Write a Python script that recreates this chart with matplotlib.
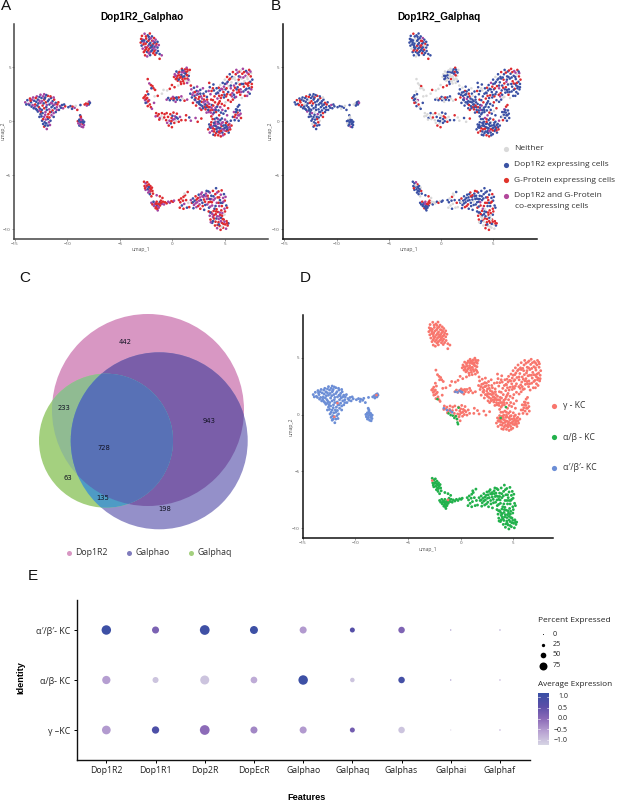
import matplotlib
matplotlib.use("Agg")
import matplotlib.pyplot as plt
from matplotlib.patches import Circle
from matplotlib.colors import LinearSegmentedColormap
import numpy as np

W, H = 617, 802
SANS = ["Open Sans", "DejaVu Sans"]
BOLD = ["Liberation Sans", "DejaVu Sans"]

# ---------- UMAP cells, by cluster ----------
top = [(-2.9,7.9),(-2.65,8.1),(-2.35,7.95),(-2.15,8.12),(-1.95,7.85),(-1.75,7.7),(-2.82,7.55),(-2.5,7.65),(-2.2,7.58),(-1.92,7.45),(-1.6,7.55),(-1.42,7.35),(-3.02,7.28),(-2.72,7.3),(-2.42,7.35),(-2.1,7.25),(-1.8,7.18),(-1.52,7.15),(-1.3,7.05),(-2.93,7.0),(-2.6,7.02),(-2.3,6.98),(-2.02,7.0),(-1.7,6.88),(-1.42,6.82),(-2.83,6.72),(-2.52,6.68),(-2.2,6.72),(-1.9,6.6),(-1.62,6.62),(-1.38,6.5),(-2.72,6.4),(-2.42,6.42),(-2.12,6.38),(-1.82,6.3),(-1.52,6.32),(-2.6,6.1),(-2.4,6.0),(-2.12,6.12),(-1.22,6.22),(-1.02,6.1),(-1.22,5.78),(-2.98,7.62),(-2.25,7.82),(-1.68,7.3),(-2.58,6.85),(-1.95,6.85),(-2.3,6.55),(-1.72,6.48),(-2.75,7.12),
 (-2.52,7.85),(-2.05,7.68),(-2.68,7.48),(-2.28,7.45),(-1.82,7.42),(-2.88,7.42),(-2.55,7.18),(-2.2,7.12),(-1.9,7.02),(-1.58,6.98),(-2.45,6.82),(-2.08,6.82),(-1.8,6.75),(-2.62,6.55),(-2.0,6.5),(-2.25,6.28),(-1.65,6.15)]
left = [(-14.0,1.75),(-13.8,1.95),(-13.7,1.6),(-13.55,2.1),(-13.45,1.75),(-13.4,1.35),(-13.25,2.2),(-13.15,1.9),(-13.05,1.55),(-13.0,1.15),(-12.9,2.3),(-12.8,2.0),(-12.75,1.65),(-12.7,1.3),(-12.8,0.9),(-12.55,2.45),(-12.45,2.15),(-12.4,1.85),(-12.35,1.45),(-12.42,1.05),(-12.55,0.65),(-12.2,2.5),(-12.1,2.2),(-12.05,1.75),(-12.0,1.3),(-12.08,0.85),(-12.2,0.4),(-12.4,0.05),(-11.85,2.35),(-11.75,2.0),(-11.7,1.55),(-11.72,1.1),(-11.8,0.65),(-11.85,0.2),(-12.0,-0.2),(-12.2,-0.5),(-11.95,-0.72),(-11.55,2.15),(-11.4,1.85),(-11.35,1.45),(-11.4,1.0),(-11.5,0.55),(-11.6,0.05),(-11.65,-0.35),(-11.25,2.0),(-11.1,1.7),(-11.0,1.3),(-11.1,0.85),(-11.3,0.4),(-10.85,1.75),(-10.7,1.4),(-10.8,1.05),(-10.5,1.5),(-10.4,1.2),(-10.2,1.38),(-13.3,1.5),(-12.95,1.8),(-12.6,1.15),(-12.25,1.65),(-11.95,1.5),(-12.3,0.2),(-11.9,0.4),(-12.15,-0.1),(-11.75,-0.1),(-12.65,0.4),(-11.55,1.7),(-11.2,1.2),(-12.2,2.0),(-12.65,1.9),(-13.6,1.5),(-11.0,1.05),(-12.5,0.85),(-11.55,0.85),(-12.1,-0.4),(-13.1,1.35),(-12.9,1.05),
 (-13.9,1.55),(-13.35,2.0),(-13.0,2.15),(-12.65,2.25),(-12.3,2.3),(-12.0,2.42),(-11.6,2.3),(-11.3,2.2),(-13.2,1.2),(-12.85,1.45),(-12.55,1.7),(-12.2,1.2),(-11.85,1.85),(-11.5,1.3),(-11.2,1.55),(-10.95,1.55),(-10.6,1.25),(-12.65,1.0),(-12.35,0.75),(-11.95,1.05),(-11.65,0.85),(-11.3,0.75),(-12.45,0.45),(-12.1,0.6),(-11.7,0.35),(-12.3,-0.25),(-11.85,-0.4),(-12.05,0.15),(-13.5,1.9),(-12.15,2.1),(-11.45,1.65),(-10.3,1.55)]
tail = [(-9.9,1.3),(-9.7,1.4),(-9.5,1.35),(-9.3,1.25),(-9.55,1.15),(-9.2,1.42),(-9.05,1.05),(-8.75,1.5),(-8.35,1.55),(-8.2,1.65),(-8.05,1.75),(-7.92,1.82),(-8.15,1.45),(-7.95,1.55),(-7.85,1.7),(-8.05,1.6)]
blob = [(-9.0,0.0),(-8.85,0.15),(-8.7,0.3),(-8.55,0.1),(-8.4,-0.05),(-8.95,-0.2),(-8.75,-0.1),(-8.55,-0.25),(-8.42,-0.35),(-8.85,-0.4),(-8.65,-0.5),(-8.5,-0.55),(-8.78,0.55),(-8.72,0.42),(-8.62,-0.02),(-8.78,-0.3),(-8.48,-0.15),(-8.9,0.05),(-8.68,0.12)]
upmid = [(0.15,4.1),(0.22,4.35),(0.32,3.9),(0.38,4.6),(0.45,4.2),(0.5,3.75),(0.55,4.45),(0.68,4.0),(0.72,4.7),(0.78,3.65),(0.85,4.3),(0.9,4.85),(0.95,3.9),(1.05,4.5),(1.1,3.5),(1.12,4.15),(1.2,4.8),(1.25,3.8),(1.3,4.35),(1.35,4.95),(1.42,3.95),(1.48,4.6),(1.55,4.2),(1.6,3.7),(1.65,4.75),(1.1,4.65),(0.62,4.25),(0.98,4.12),(1.3,4.55),(0.82,3.45),(1.4,3.55),
 (0.3,4.2),(0.42,3.98),(0.6,3.85),(0.65,4.55),(0.8,4.1),(0.88,4.55),(1.02,3.7),(1.18,3.95),(1.22,4.42),(1.4,4.25),(1.52,3.85),(1.58,4.5),(1.42,4.78),(0.95,4.72)]
bigr = [(4.35,2.6),(4.4,3.1),(4.5,2.85),(4.55,3.35),(4.65,3.0),(4.7,2.4),(4.78,3.55),(4.85,2.7),(4.9,3.2),(4.98,3.85),(5.05,2.95),(5.1,2.3),(5.15,3.5),(5.2,4.1),(5.3,2.7),(5.35,3.25),(5.4,3.85),(5.45,4.35),(5.52,2.45),(5.55,3.05),(5.62,3.6),(5.68,4.1),(5.75,4.55),(5.8,2.85),(5.85,3.3),(5.92,2.2),(5.98,3.85),(6.02,4.35),(6.08,4.75),(6.15,2.65),(6.2,3.15),(6.25,3.65),(6.32,4.15),(6.38,4.6),(6.45,2.45),(6.48,2.95),(6.55,3.45),(6.58,3.95),(6.65,4.4),(6.7,4.85),(6.75,2.75),(6.8,3.2),(6.85,3.7),(6.9,2.35),(6.95,4.2),(7.0,4.65),(7.05,3.0),(7.1,3.45),(7.15,3.9),(7.2,2.7),(7.25,4.35),(7.3,4.75),(7.35,3.2),(7.4,3.65),(7.45,4.15),(7.5,2.95),(7.55,3.45),(7.6,3.85),(7.48,4.45),(7.2,3.3),(6.3,2.9),(5.7,2.6),(5.0,3.45),(4.6,2.15),(6.05,3.5),(6.6,2.15),(5.3,1.95),(7.1,2.35),(6.4,3.4),(6.95,3.5),(7.35,2.55),(5.9,4.05),(6.75,4.05),(5.55,3.3),
 (4.45,2.35),(4.75,2.95),(5.15,3.05),(5.25,3.65),(5.5,3.95),(5.65,2.3),(5.85,2.45),(5.75,3.95),(5.95,3.1),(6.1,2.95),(6.05,2.25),(6.35,2.7),(6.3,3.85),(6.5,4.7),(6.55,2.7),(6.72,3.45),(6.82,4.55),(6.95,2.9),(7.1,4.1),(7.12,4.5),(7.25,3.55),(7.3,3.05),(7.55,3.15),(7.42,4.6),(5.05,1.75),(4.9,2.2),(5.55,1.8),(5.75,2.0),(6.2,4.5),(6.45,4.1),(5.2,2.5),(4.95,2.45)]
midband = [(1.7,2.55),(1.8,2.95),(1.85,2.2),(1.95,1.7),(2.0,2.65),(2.05,3.1),(2.1,2.35),(2.18,1.95),(2.25,1.45),(2.3,2.8),(2.35,3.2),(2.4,2.5),(2.48,2.05),(2.55,1.6),(2.6,1.2),(2.65,2.9),(2.72,2.3),(2.78,1.8),(2.85,1.4),(2.9,3.05),(2.95,2.55),(3.0,2.0),(3.08,1.55),(3.15,1.1),(3.2,2.75),(3.28,2.25),(3.35,1.75),(3.4,1.3),(3.45,0.85),(3.5,3.55),(3.55,3.15),(3.62,2.5),(3.68,2.0),(3.75,1.5),(3.8,1.05),(3.85,0.65),(3.9,3.4),(3.95,2.85),(4.0,2.3),(4.05,1.75),(4.1,1.25),(4.15,0.85),(4.2,3.05),(4.28,2.1),(4.32,1.55),(4.38,1.0),(4.45,0.55),(4.5,1.85),(4.55,1.3),(4.62,0.8),(4.7,1.6),(4.75,1.05),(4.85,0.7),(4.95,1.45),(5.05,0.95),(5.2,0.55),(5.3,1.2),(3.6,1.0),(3.25,0.8),(2.5,1.75),(2.15,2.7),(3.05,1.3),(3.5,1.6),(3.95,1.05),(2.75,1.05),(4.25,1.35),(3.7,0.45),(4.0,0.2),(4.35,0.2),(4.7,0.25),(3.85,1.95),(2.95,1.75),(3.3,2.0),(2.65,2.55),(3.15,1.55),
 (1.9,2.45),(2.2,2.15),(2.35,1.75),(2.45,2.75),(2.55,2.25),(2.68,1.5),(2.82,2.1),(2.9,1.2),(3.02,2.35),(3.12,1.85),(3.22,1.3),(3.4,1.05),(3.55,1.3),(3.72,1.25),(3.88,1.45),(3.95,0.8),(4.12,1.05),(3.65,0.8),(3.3,1.45),(2.6,1.85),(2.3,2.45),(2.12,2.0),(3.85,3.05),(4.15,2.55),(4.42,1.7),(3.45,2.8),(4.3,2.65),(3.72,2.8)]
lowr = [(3.4,-0.75),(3.5,-0.3),(3.55,-1.05),(3.65,-0.6),(3.7,-0.1),(3.78,-0.9),(3.82,0.2),(3.9,-1.25),(3.95,-0.4),(4.02,-0.75),(4.1,-0.05),(4.15,-1.1),(4.2,0.3),(4.28,-0.55),(4.35,-1.3),(4.4,-0.2),(4.48,-0.85),(4.55,0.1),(4.6,-1.4),(4.68,-0.45),(4.75,-1.05),(4.8,-0.1),(4.88,-0.7),(4.95,-1.2),(5.0,0.15),(5.05,-0.35),(5.12,-0.9),(5.2,-0.05),(5.28,-0.6),(5.35,-1.05),(5.42,-0.25),(5.5,-0.75),(5.55,0.05),(5.62,-0.4),(4.05,-0.25),(4.4,-0.6),(4.75,-0.75),(5.15,-0.5),(3.65,-0.35),(4.25,-0.95),(3.85,-0.65),(4.6,-0.3),(5.0,-0.6),(4.5,-1.1),(5.3,-0.85),
 (3.55,-0.55),(3.75,-0.5),(3.95,-0.95),(4.12,-0.45),(4.2,-0.7),(4.3,-0.25),(4.42,-1.0),(4.55,-0.65),(4.62,-0.9),(4.7,-0.15),(4.85,-0.4),(4.95,-0.85),(5.1,-0.15),(5.2,-0.75),(5.32,-0.35),(5.45,-0.55),(4.35,-0.05),(3.95,-0.15),(4.05,-1.3),(4.8,-1.3)]
rsmall = [(5.75,0.4),(5.85,0.85),(5.92,0.1),(6.0,0.6),(6.05,1.1),(6.12,0.3),(6.2,0.8),(6.22,1.35),(6.3,0.05),(6.35,0.55),(6.4,1.0),(6.48,0.7),(6.52,0.3),(6.35,1.5),(6.05,0.85),(6.25,0.55),(6.15,1.05),(5.9,0.4)]
c0top = [(-0.55,2.0),(-0.4,2.15),(-0.25,1.95),(-0.1,2.1),(0.05,2.25),(0.1,1.95),(0.25,2.15),(0.3,1.8),(0.45,2.0),(0.6,2.2),(0.75,1.95),(0.95,2.1),(1.15,1.9),(1.4,2.0),(-0.25,3.0),(-0.05,3.35),(0.2,3.15),(-0.5,2.85),(0.55,3.3),(1.75,3.3),(0.15,2.1),(0.4,2.2),(0.85,2.3)]
c0low = [(-0.6,0.1),(-0.5,-0.15),(-0.42,0.4),(-0.35,-0.4),(-0.28,0.05),(-0.2,0.65),(-0.15,-0.2),(-0.08,0.3),(-0.05,-0.55),(0.05,0.15),(0.1,0.8),(0.18,-0.15),(0.25,0.45),(0.35,0.0),(0.42,0.7),(0.5,0.25),(0.6,-0.05),(0.72,0.4),(0.85,0.1),(1.3,0.55),(1.6,0.35),(1.25,0.1),(1.75,0.05),(2.2,0.3),(2.4,-0.05),(2.75,0.25),(0.0,0.5),(0.2,0.2),(-0.1,0.0),(0.38,0.35)]
clft = [(-2.75,2.15),(-2.6,1.95),(-2.55,2.4),(-2.4,2.15),(-2.42,1.75),(-2.3,2.5),(-2.22,1.95),(-2.15,1.55),(-2.05,1.3),(-1.95,1.15),(-2.55,1.7),(-2.35,1.4),(-1.7,2.3),(-1.4,2.35),(-2.35,3.9),(-2.2,3.5),(-2.05,3.35),(-1.9,3.25),(-1.8,3.05),(-1.65,2.9),(-2.0,3.05),(-1.0,2.55),(-0.85,2.9),(-2.4,2.75),(-1.75,1.7),(-2.5,2.05),(-2.3,1.85),(-2.65,2.25)]
cmid = [(-1.55,0.75),(-1.42,0.5),(-1.3,0.65),(-1.2,0.3),(-1.05,0.45),(-0.92,0.2),(-0.78,0.35),(-0.75,0.65),(-1.25,0.15),(-1.6,0.45),(-1.0,0.75),(-0.55,0.75)]
b1 = [(-2.7,-5.6),(-2.55,-5.75),(-2.4,-5.65),(-2.65,-6.0),(-2.45,-6.05),(-2.25,-5.85),(-2.1,-6.0),(-2.55,-6.35),(-2.35,-6.3),(-2.15,-6.2),(-1.95,-6.15),(-2.3,-6.6),(-2.1,-6.5),(-1.9,-6.45),(-2.15,-6.75),(-1.85,-6.7),(-2.0,-6.95),(-1.5,-6.85),(-1.2,-6.95),(-0.95,-7.1),(-2.4,-5.95),(-2.2,-6.45),(-2.6,-6.2),(-2.05,-6.3),(-2.25,-6.1)]
b2 = [(-2.0,-7.55),(-1.9,-7.7),(-1.8,-7.45),(-1.75,-7.85),(-1.65,-7.6),(-1.6,-8.05),(-1.5,-7.45),(-1.48,-7.8),(-1.4,-8.25),(-1.35,-7.65),(-1.3,-8.0),(-1.2,-7.5),(-1.18,-7.8),(-1.1,-7.35),(-1.0,-7.65),(-0.9,-7.45),(-0.8,-7.7),(-0.7,-7.5),(-0.55,-7.6),(-0.4,-7.45),(-0.25,-7.55),(-0.1,-7.4),(0.05,-7.45),(0.15,-7.35),(-1.55,-7.95),(-1.45,-8.1),(-1.25,-7.7),(-1.7,-7.7),(-1.55,-7.65),(-1.35,-7.9),(-1.1,-7.55)]
b3 = [(0.62,-7.3),(0.75,-7.5),(0.82,-7.15),(0.9,-7.8),(1.0,-7.35),(1.05,-7.0),(1.12,-7.65),(1.2,-6.85),(1.3,-7.3),(1.38,-8.0),(1.45,-6.55),(1.5,-7.55),(0.7,-8.0),(1.05,-8.1),(1.6,-7.95),(1.15,-6.7)]
b4 = [(1.75,-7.3),(1.85,-7.55),(1.95,-7.15),(2.05,-7.75),(2.12,-7.35),(2.2,-6.95),(2.28,-7.95),(2.35,-7.5),(2.42,-7.1),(2.5,-6.8),(2.58,-7.7),(2.65,-8.1),(2.72,-7.3),(2.8,-6.6),(2.88,-7.85),(2.95,-7.0),(3.02,-8.2),(3.1,-7.45),(3.18,-6.7),(3.25,-6.45),(3.32,-7.7),(3.4,-7.15),(3.48,-8.0),(3.55,-6.6),(3.62,-7.45),(3.7,-6.9),(3.78,-7.8),(3.85,-6.45),(3.92,-7.3),(4.0,-8.1),(4.08,-6.75),(4.15,-6.2),(4.22,-7.55),(4.3,-7.05),(4.38,-6.5),(4.45,-7.85),(4.52,-7.3),(4.6,-6.8),(4.68,-6.4),(4.75,-7.55),(4.82,-7.1),(4.9,-6.75),(4.98,-7.35),(5.05,-7.0),(5.12,-7.8),(4.95,-8.1),(5.2,-8.0),(3.0,-6.85),(2.55,-7.35),(3.35,-6.9),(2.0,-8.05),(3.7,-7.2),(4.4,-7.55),
 (1.95,-7.5),(2.2,-7.6),(2.3,-7.25),(2.45,-7.85),(2.62,-7.05),(2.85,-7.55),(2.85,-6.95),(3.0,-7.25),(3.12,-7.75),(3.28,-7.2),(3.42,-6.5),(3.45,-7.5),(3.6,-7.9),(3.75,-7.5),(3.9,-6.95),(4.05,-7.15),(4.1,-7.85),(4.25,-6.6),(4.45,-7.05),(4.6,-7.55),(4.7,-7.85),(4.85,-7.45),(3.55,-7.2),(2.7,-6.75),(3.2,-6.95)]
b5 = [(3.45,-8.35),(3.55,-8.75),(3.62,-9.1),(3.7,-8.45),(3.78,-9.4),(3.85,-8.85),(3.92,-8.3),(4.0,-9.15),(4.05,-9.65),(4.12,-8.6),(4.18,-9.0),(4.25,-9.9),(4.32,-8.4),(4.38,-9.35),(4.45,-8.8),(4.5,-9.7),(4.58,-10.05),(4.62,-8.95),(4.7,-9.4),(4.75,-8.5),(4.82,-9.85),(4.88,-9.1),(4.95,-8.65),(5.02,-9.55),(5.1,-9.95),(5.15,-9.25),(5.25,-9.65),(5.32,-9.45),(4.4,-9.05),(3.95,-8.7),(4.65,-8.25),(3.65,-9.35),(4.2,-8.15),(5.0,-8.35),
 (3.6,-8.45),(3.8,-8.6),(3.95,-9.0),(4.1,-9.3),(4.25,-8.8),(4.3,-9.6),(4.42,-9.55),(4.55,-8.65),(4.6,-9.25),(4.78,-9.05),(4.85,-9.5),(4.7,-9.75),(4.95,-9.3),(5.2,-9.45),(3.85,-9.25),(4.15,-8.35),(4.5,-8.45),(4.72,-8.75)]
clusters = [top, left, tail, blob, upmid, bigr, midband, lowr, rsmall, c0top, c0low, clft, cmid, b1, b2, b3, b4, b5]

# expression class of each cell, panel A (B blue, R red, M purple, N neither)
a_cats = [
"RMBRBRMRBRMBRMBBRRMBNMRBBMRRBMBRBMRBRMBBMRRBBMBRRRRMBRMBRBBMRBMRBM",
"MBMRBBMBRBMBBRBMBMRBBMBRBMMBRBBMRBBRMBBBRMBMRBMBBRMBBMRMBBBMRRBMBMBRMBMRBBMBBMRBMBRMBBMRBBMRBMBBRMBMRBBMRB",
"BBRMBNRBRRNMMBBRMB",
"RBMBBMBRMBMMBRBMBBM",
"RMRBRRMRNRBRRMRBRNRMRRBNRMRBRRMMRBRRMRRBRMNRB",
"MRBNMRBRMNBRMRBNRBRMNBRRMBNRMRBNBRRMBNRMBRNRMBBRNMRRNBRMRBNRRMBRBNRMRRBNMBRMRBRMBNRBMRRNMBRBNMRBRMNBRRM",
"BMBRMBBMRBMBRBMBMRBMBRMRBBMRMRBMRBRMBBRRMRBMRBRRMBRMBRBMRRMBRRMMRBRBMBRMRBBMRBMRBMBRMBBRMRBBMRBMBRBRMBRM",
"RBMBRMRBBRMRBMRBMBRRBMBRMBRBMBMRBRMBMBRBRMBMRBMRBBMRBRMBMRBRMBBRM",
"BMBRBMRBBMBMRBBMBR",
"MBBRMBBMBRBNRMRRRNNRRBMBM",
"RMRRMRBRRMRRMNRBRMRRBRMMRRBMRB",
"RMRRMBMRRMBRNRRMRRRRBNNRMRRRM",
"RRRMNNRRRMRRRN",
"RMRRMRRMBRRMRRBRRMRRRMRRB",
"MRBMMRRBMRMBRRMRMRRMMRRMRRRMRMRB",
"RRRBRRMRRBRNRRRNRRR",
"MRBMBRMMRBMRBMRMBRMBMRBMRBMRMBRBMRRMBMRBMBRMBMRBMRBMRBMRRMBMRBMBRMRBMBMRBRMBM",
"RMRRBMRNRRBMRRMRRBRMRRNRMRRBMRRMRRBMRRMRBRMRRNMRBRMR",
]
# expression class of each cell, panel B
b_cats = [
"BRBBBMBNBRBBBBNBBRBBBRMBBNBBBRBBBBRBBNBBBRBBBBRRBBBBBBRBBBRNBBBRBB",
"BRBBRBBBNBRBBBMBBRBBBBRBBNBBRBBBMRBBBRBBBBNBBRBBRBBBMBBRBBRBBBBRBBBBNRBBBRBBBBBRBBBNBBRBBBBRBBMBBRBBBNBBRBBB",
"BBBBNNBBNNBBBBMBBB",
"BNNBBNBBBBMBBNBBBBB",
"NNBNBNNBNBNNRBNNBNMRNBNBNBBNRBNBBNBNBNNBRNBBN",
"BRBBBRMBRBBRBNBRBBRMBBRBBNRBBBRMBBRBNBBRBBRBBMRBBBNRBBRBBRMBBRBBRNBBBRBBBBRBRBBMBBRBNBBRBBRBBMRBBBRBB",
"BBRBBNBBBRBBMBBBRBBNBBBRBBBBRBBBRBMBBNBRBBBRBBMBBRBBBBNBRBBBBRBBRBBBRBBBBRBBMBBBRBBNBBBRBMBBBRBBBNBBRBBB",
"BBRBBRBBBRBBMBRBBBRBBNBBRBBBRBBRMBBBRBBBRBBBRBBBBRBBBMBBRBBBBRBBB",
"BBRBMBBRBBBBBRBBBN",
"BNBRBBBNBBBNNRNNRNRNNRBBB",
"NNBRBNNBRNBBRBBNRNBRNBNBNRNBBR",
"RBBNBBMRNBRBNNNNNRNNNNRNBBNB",
"NNNBNNRNNNBRNN",
"BBMBBRBBBBNBBRBBNBRNNBRBBN",
"BBRBBRMBBRBRBRNNBNNBRNBBBBRBMBRB",
"BBNNBRNNBNBRNBNNNN",
"BBRBBBRBBBRBBRBBBNBRBBRBBBRBBMBBRBBBRBBRBRBBBRBRBBBBRNBBRBBRBBBRBBMBBRBRBBRBB",
"BRRBBNRRNBRRBRNNRBRRNRBNNRBRRBRNNRBRNNBRBRRNBNRRBBRN",
]

# minority cells of other identities in panel D
minor_x = [-1.15, -0.95, -0.75, -0.6, -0.45, -0.35, -0.3, -0.25, -0.2, -2.2, 4.3, 3.8, -1.6, -1.3, -1.0, -0.8, -0.5, -0.3, -0.1, 0.05, 0.15, -12.0, -11.7, -8.0, -2.7, -1.2]
minor_y = [0.1, -0.05, -0.1, -0.3, -0.15, -0.4, -0.7, -0.85, 0.6, 1.35, 0.65, -0.3, 0.55, 0.4, 0.35, 0.2, 2.0, 1.95, 2.1, 2.0, 1.95, -0.2, 1.0, 1.7, -5.8, -7.5]
minor_k = "aaaaaaaaaaaapppppppppggggg"

# ---------- Venn counts ----------
venn_counts = ["442", "233", "943", "728", "63", "135", "198"]
venn_names = ["Dop1R2", "Galphao", "Galphaq"]

# ---------- Dot plot ----------
features = ["Dop1R2", "Dop1R1", "Dop2R", "DopEcR", "Galphao", "Galphaq", "Galphas", "Galphai", "Galphaf"]
identities = ["γ –KC", "α/β- KC", "α′/β′- KC"]
pct_gamma = [83, 68, 94, 65, 65, 43, 59, 0.1, 1]
pct_ab = [78, 54, 86, 61, 91, 38, 59, 1, 1]
pct_apbp = [91, 65, 94, 75, 65, 43, 59, 1, 1]
avg_gamma = [-0.5, 0.85, 0.0, -0.3, -0.5, 0.3, -1.0, -1.0, 0.0]
avg_ab = [-0.55, -1.0, -1.0, -0.7, 1.15, -1.0, 1.0, 0.3, 0.0]
avg_apbp = [1.15, 0.2, 1.1, 1.15, -0.5, 0.7, 0.15, 0.3, 0.3]
size_legend = [0, 25, 50, 75]
color_legend = [1.0, 0.5, 0.0, -0.5, -1.0]

PALETTE = {"B": "#3A50A4", "R": "#DE2A30", "M": "#A545A2", "N": "#D9D9D9"}
D_COLORS = {"g": "#F8766D", "a": "#22B14C", "p": "#6C8ED6"}

plt.rcParams["font.family"] = SANS
fig = plt.figure(figsize=(W / 100, H / 100), dpi=100)


def axes_px(l, t, r, b, **kw):
    return fig.add_axes([l / W, 1 - b / H, (r - l) / W, (b - t) / H], **kw)


ov = axes_px(0, 0, W, H, zorder=5)
ov.set_xlim(0, W)
ov.set_ylim(H, 0)
ov.axis("off")
ov.patch.set_alpha(0)


def umap_axes(box, xlim, ylim, spine):
    ax = axes_px(*box)
    ax.set_xlim(*xlim)
    ax.set_ylim(*ylim)
    for s in ("top", "right"):
        ax.spines[s].set_visible(False)
    for s in ("left", "bottom"):
        ax.spines[s].set_color(spine)
        ax.spines[s].set_linewidth(1.1)
    ax.set_xticks([-15, -10, -5, 0, 5])
    ax.set_yticks([-10, -5, 0, 5])
    ax.set_xticklabels(["\u221215", "\u221210", "\u22125", "0", "5"])
    ax.set_yticklabels(["\u221210", "\u22125", "0", "5"])
    ax.tick_params(length=1.2, width=0.4, labelsize=3.2, pad=1, colors="#555555")
    return ax


def flat(cats_list=None):
    xs, ys, cs = [], [], []
    for i, cl in enumerate(clusters):
        for j, (x, y) in enumerate(cl):
            xs.append(x)
            ys.append(y)
            if cats_list is not None:
                cs.append(cats_list[i][j % len(cats_list[i])])
    return xs, ys, cs


# ---- Panel A ----
axA = umap_axes((14, 24, 268, 239), (-15.07, 9.09), (-10.9, 9.0), "#444444")
x, y, c = flat(a_cats)
axA.scatter(x, y, c=[PALETTE[k] for k in c], s=3.6, linewidths=0)
ov.text(142, 17, "Dop1R2_Galphao", ha="center", va="center", fontsize=7.2, fontweight="bold", family=BOLD)
ov.text(141, 250, "umap_1", ha="center", va="center", fontsize=3.6, color="#555555")
ov.text(3, 131, "umap_2", ha="center", va="center", rotation=90, fontsize=3.6, color="#555555")

# ---- Panel B ----
axB = umap_axes((282.7, 24, 536.7, 239), (-15.15, 9.15), (-10.9, 9.0), "#111111")
x, y, c = flat(b_cats)
axB.scatter(x, y, c=[PALETTE[k] for k in c], s=3.4, linewidths=0)
ov.text(439, 17, "Dop1R2_Galphaq", ha="center", va="center", fontsize=7.2, fontweight="bold", family=BOLD)
ov.text(409, 250, "umap_1", ha="center", va="center", fontsize=3.6, color="#555555")
ov.text(270, 131, "umap_2", ha="center", va="center", rotation=90, fontsize=3.6, color="#555555")

# Legend of A/B
leg_y = [149, 165, 180.3, 195.7]
leg_c = ["#D9D9D9", "#3A53A4", "#E0342B", "#B2479B"]
leg_t = ["Neither", "Dop1R2 expressing cells", "G-Protein expressing cells", "Dop1R2 and G-Protein"]
for yy, col, t in zip(leg_y, leg_c, leg_t):
    ov.scatter([506], [yy], s=14, c=col, linewidths=0)
    ov.text(514, yy, t, va="center", ha="left", fontsize=6.0, color="#333333")
ov.text(515, 206.8, "co-expressing cells", va="center", ha="left", fontsize=6.0, color="#333333")

# ---- Panel C: Venn ----
pink = Circle((148, 410), 96, transform=ov.transData, fc="#D897C3", ec="none")
purp = Circle((159.2, 440.8), 88.5, transform=ov.transData, fc="#9490C9", ec="none")
gren = Circle((106, 440.7), 67, transform=ov.transData, fc="#A4D07F", ec="none")
for p in (pink, purp, gren):
    ov.add_patch(p)


def overlap(base, clip_to, color):
    patch = Circle(base.center, base.radius, transform=ov.transData, fc=color, ec="none")
    ov.add_patch(patch)
    patch.set_clip_path(Circle(clip_to.center, clip_to.radius, transform=ov.transData))
    return patch


overlap(pink, purp, "#7A5EA9")
overlap(pink, gren, "#90BB92")
overlap(purp, gren, "#4E9BC5")
theta = np.linspace(0, 2 * np.pi, 721)
inside = []
for t in theta:
    for r in np.linspace(gren.radius, 0, 400):
        px = gren.center[0] + r * np.cos(t)
        py = gren.center[1] + r * np.sin(t)
        if (px - pink.center[0]) ** 2 + (py - pink.center[1]) ** 2 <= pink.radius ** 2 and \
           (px - purp.center[0]) ** 2 + (py - purp.center[1]) ** 2 <= purp.radius ** 2:
            inside.append((px, py))
            break
ov.fill([q[0] for q in inside], [q[1] for q in inside], color="#5871B6", lw=0)

venn_pos = [(125, 341.7), (64, 407.5), (209, 421), (104, 448), (68, 477.5), (103, 498), (165, 509)]
for (px, py), t in zip(venn_pos, venn_counts):
    ov.text(px, py, t, ha="center", va="center", fontsize=4.9, family="DejaVu Sans", color="#111122",
            fontweight="medium")
venn_leg = [(69, 75, "#D897C3"), (129, 136, "#7F7BBC"), (191, 198, "#A4D07F")]
for (dx, tx, col), name in zip(venn_leg, venn_names):
    ov.scatter([dx], [552.6], s=13, c=col, linewidths=0)
    ov.text(tx, 552.2, name, va="center", ha="left", fontsize=6.3, color="#333333")

# ---- Panel D ----
axD = umap_axes((302.7, 315, 553, 538.3), (-15, 8.77), (-10.87, 8.74), "#111111")
x, y, _ = flat()
d_group = ["p" if (cl is left or cl is tail or cl is blob) else ("a" if any(cl is q for q in (b1, b2, b3, b4, b5)) else "g")
           for cl in clusters for _pt in cl]
axD.scatter(x, y, c=[D_COLORS[k] for k in d_group], s=4.2, linewidths=0)
axD.scatter(minor_x, minor_y, c=[D_COLORS[k] for k in minor_k], s=3.6, linewidths=0)
ov.text(428, 549, "umap_1", ha="center", va="center", fontsize=3.6, color="#555555")
ov.text(290.7, 427, "umap_2", ha="center", va="center", rotation=90, fontsize=3.6, color="#555555")
d_leg = [(406, "γ - KC", "#F8766D"), (437, "α/β - KC", "#22B14C"), (467.7, "α′/β′- KC", "#6C8ED6")]
for yy, t, col in d_leg:
    ov.scatter([554], [yy], s=14, c=col, linewidths=0)
    ov.text(563.3, yy, t, va="center", ha="left", fontsize=6.2, color="#333333")

# ---- Panel E ----
cmap = LinearSegmentedColormap.from_list(
    "expr", ["#D6D4E4", "#B9A3D3", "#8C6BB8", "#5B4FA8", "#3A50A5"])
axE = axes_px(76.8, 600, 529.5, 760)
axE.set_xlim(-0.6, 8.6)
axE.set_ylim(-0.6, 2.6)
for s in ("top", "right"):
    axE.spines[s].set_visible(False)
for s in ("left", "bottom"):
    axE.spines[s].set_linewidth(1.0)
    axE.spines[s].set_color("#111111")


def size_pts(p):
    d_px = 1.0 + 0.093 * np.asarray(p, dtype=float)
    d_pt = d_px * 72 / 100
    return d_pt ** 2


cols = np.arange(len(features))
for row, (pct, avg) in enumerate(zip((pct_gamma, pct_ab, pct_apbp), (avg_gamma, avg_ab, avg_apbp))):
    axE.scatter(cols, [row] * len(cols), s=size_pts(pct), c=avg, cmap=cmap, vmin=-1.2, vmax=1.2, linewidths=0)
axE.set_xticks(cols)
axE.set_xticklabels(features, fontsize=6.3, color="#222222")
axE.set_yticks([0, 1, 2])
axE.set_yticklabels(identities, fontsize=6.4, color="#222222")
axE.tick_params(length=2, width=0.7, pad=2.5)
ov.text(20.5, 678, "Identity", rotation=90, ha="center", va="center", fontsize=6.6, fontweight="bold", family=BOLD)
ov.text(307, 798, "Features", ha="center", va="center", fontsize=6.6, fontweight="bold", family=BOLD)

ov.text(538, 620.7, "Percent Expressed", ha="left", va="center", fontsize=6.0, color="#222222")
for yy, p in zip([634.3, 645, 655, 665.7], size_legend):
    ov.scatter([543], [yy], s=size_pts(p), c="black", linewidths=0)
    ov.text(553, yy, str(p), ha="left", va="center", fontsize=5.2, color="#222222")
ov.text(538, 684, "Average Expression", ha="left", va="center", fontsize=5.9, color="#222222")
cb = axes_px(538, 692.7, 549, 744.5)
cb.imshow(np.linspace(1.2, -1.2, 100)[:, None], cmap=cmap, vmin=-1.2, vmax=1.2, aspect="auto",
          extent=(0, 1, -1.2, 1.2))
cb.set_xticks([])
cb.set_yticks(color_legend)
cb.set_yticklabels([])
for sp in cb.spines.values():
    sp.set_visible(False)
cb.tick_params(length=0)
for v, lab, ly in zip(color_legend, ["1.0", "0.5", "0.0", "\u22120.5", "\u22121.0"], [697, 708, 719, 730, 741]):
    cb.plot([0, 0.2], [v, v], color="white", lw=0.4)
    cb.plot([0.8, 1], [v, v], color="white", lw=0.4)
    ov.text(568, ly, lab, ha="right", va="center", fontsize=5.0, color="#222222")
cb.set_xlim(0, 1)
cb.set_ylim(-1.2, 1.2)

# ---- Panel letters ----
for t, px, py in [("A", 6, 6), ("B", 276, 6), ("C", 25, 278), ("D", 305, 278), ("E", 33, 576)]:
    ov.text(px, py, t, ha="center", va="center", fontsize=11, family=BOLD, color="#111111", fontweight="medium")

fig.savefig("out.png", dpi=100)
